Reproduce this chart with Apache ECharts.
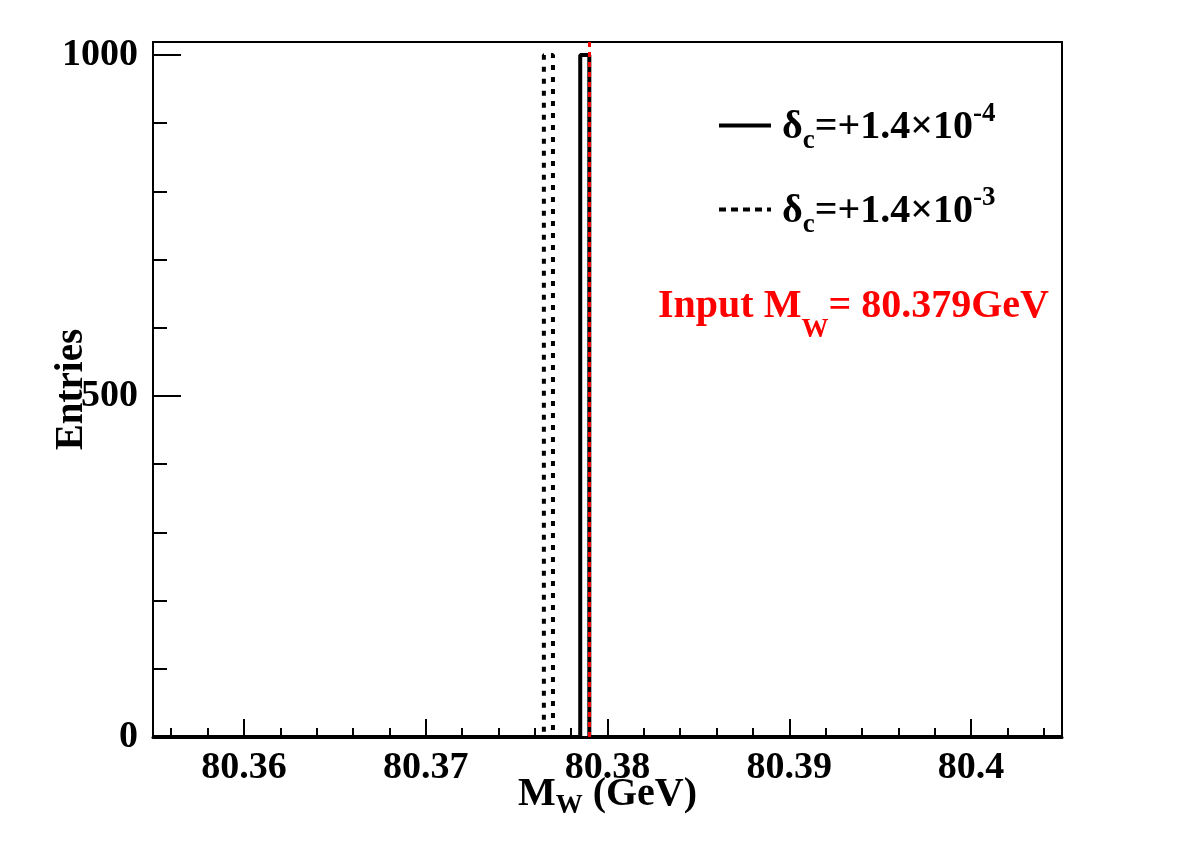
<!DOCTYPE html>
<html>
<head>
<meta charset="utf-8">
<script src="https://cdn.jsdelivr.net/npm/echarts@6/dist/echarts.min.js"></script>
<style>
html,body{margin:0;padding:0;background:#fff;}
#chart{width:1182px;height:848px;}
</style>
</head>
<body>
<div id="chart"></div>
<script>
// ---- data ----
const xMin = 80.355;
const xMax = 80.405;
const yMin = 0;
const yMax = 1019;
const binWidth = 0.0005;
const solidBinLow = [80.3785];
const solidCounts = [1000];
const dottedBinLow = [80.3765];
const dottedCounts = [1000];
const inputMW = 80.379;
const seriesNames = ['solid', 'dotted'];
const legendLabels = ['{m|δ}{sub|c}{m|=+1.4×10}{sup|-4}', '{m|δ}{sub|c}{m|=+1.4×10}{sup|-3}'];
const xTickValues = [80.36, 80.37, 80.38, 80.39, 80.4];
const xTickLabels = ['80.36', '80.37', '80.38', '80.39', '80.4'];
const xMinorStep = 0.002;
const yTickValues = [0, 500, 1000];
const yTickLabels = ['0', '500', '1000'];
const yMinorStep = 100;

// ---- helpers ----
function outline(lows, counts) {
  const pts = [[xMin, 0]];
  lows.forEach((lo, i) => {
    const hi = +(lo + binWidth).toFixed(6);
    pts.push([lo, 0], [lo, counts[i]], [hi, counts[i]], [hi, 0]);
  });
  pts.push([xMax, 0]);
  return pts;
}
function minorTicks(lo, hi, step, majors) {
  const out = [];
  const start = Math.ceil(lo / step - 1e-9);
  for (let k = start; k * step <= hi + 1e-9; k++) {
    const v = +(k * step).toFixed(6);
    if (v < lo || v > hi) continue;
    if (majors.some(m => Math.abs(m - v) < step * 1e-3)) continue;
    out.push(v);
  }
  return out;
}

const FONT = 'Liberation Serif';
const chart = echarts.init(document.getElementById('chart'), null, {renderer: 'canvas'});

const xMinor = minorTicks(xMin, xMax, xMinorStep, xTickValues);
const yMinor = minorTicks(yMin, 1000, yMinorStep, yTickValues);

const solidIcon = 'path://M0,0L52,0L52,4L0,4Z';
const dottedIcon = 'path://M0,0h7v4h-7zM12,0h7v4h-7zM24,0h7v4h-7zM36,0h7v4h-7zM48,0h4v4h-4z';

chart.setOption({
  animation: false,
  backgroundColor: '#fff',
  grid: {
    left: 153, top: 42, right: 120, bottom: 111,
    show: true, borderColor: '#000', borderWidth: 2, backgroundColor: 'transparent'
  },
  xAxis: [{
    type: 'value', min: xMin, max: xMax, position: 'bottom',
    axisLine: {show: true, lineStyle: {color: '#000', width: 3}},
    axisTick: {show: true, inside: true, length: 18, customValues: xTickValues, lineStyle: {color: '#000', width: 2}},
    axisLabel: {
      show: true, customValues: xTickValues, margin: 12,
      formatter: v => { const i = xTickValues.findIndex(t => Math.abs(t - v) < 1e-6); return i >= 0 ? xTickLabels[i] : ''; },
      fontFamily: FONT, fontWeight: 'bold', fontSize: 38, color: '#000'
    },
    splitLine: {show: false},
    name: '{m|M}{sub|W}{m| (GeV)}',
    nameLocation: 'middle', nameGap: 33, nameMoveOverlap: false,
    nameTextStyle: {
      fontFamily: FONT, fontWeight: 'bold', fontSize: 40, color: '#000',
      rich: {
        m: {fontFamily: FONT, fontWeight: 'bold', fontSize: 40, color: '#000', lineHeight: 50, verticalAlign: 'middle'},
        sub: {fontFamily: FONT, fontWeight: 'bold', fontSize: 27, color: '#000', lineHeight: 27, verticalAlign: 'bottom'}
      }
    }
  }, {
    type: 'value', min: xMin, max: xMax, position: 'bottom',
    axisLine: {show: false},
    axisTick: {show: true, inside: true, length: 9, customValues: xMinor, lineStyle: {color: '#000', width: 2}},
    axisLabel: {show: false},
    splitLine: {show: false}
  }],
  yAxis: [{
    type: 'value', min: yMin, max: yMax, position: 'left',
    axisLine: {show: true, lineStyle: {color: '#000', width: 2}},
    axisTick: {show: true, inside: true, length: 28, customValues: yTickValues, lineStyle: {color: '#000', width: 2}},
    axisLabel: {
      show: true, customValues: yTickValues, margin: 15,
      formatter: v => { const i = yTickValues.findIndex(t => Math.abs(t - v) < 1e-6); return i >= 0 ? yTickLabels[i] : ''; },
      fontFamily: FONT, fontWeight: 'bold', fontSize: 38, color: '#000'
    },
    splitLine: {show: false},
    name: 'Entries', nameLocation: 'middle', nameGap: 62, nameRotate: 90, nameMoveOverlap: false,
    nameTextStyle: {fontFamily: FONT, fontWeight: 'bold', fontSize: 39, color: '#000'}
  }, {
    type: 'value', min: yMin, max: yMax, position: 'left',
    axisLine: {show: false},
    axisTick: {show: true, inside: true, length: 14, customValues: yMinor, lineStyle: {color: '#000', width: 2}},
    axisLabel: {show: false},
    splitLine: {show: false}
  }],
  legend: {
    show: true, orient: 'vertical', left: 719, top: 101, padding: 0,
    itemWidth: 52, itemHeight: 4, itemGap: 30, symbolKeepAspect: false,
    data: [{name: seriesNames[0], icon: solidIcon}, {name: seriesNames[1], icon: dottedIcon}],
    formatter: name => legendLabels[seriesNames.indexOf(name)],
    textStyle: {
      fontFamily: FONT, fontWeight: 'bold', fontSize: 40, color: '#000', padding: [5, 0, 0, 6],
      rich: {
        m: {fontFamily: FONT, fontWeight: 'bold', fontSize: 40, color: '#000', lineHeight: 54, verticalAlign: 'middle'},
        sub: {fontFamily: FONT, fontWeight: 'bold', fontSize: 27, color: '#000', lineHeight: 27, verticalAlign: 'bottom'},
        sup: {fontFamily: FONT, fontWeight: 'bold', fontSize: 27, color: '#000', lineHeight: 27, verticalAlign: 'top'}
      }
    }
  },
  graphic: [{
    type: 'text', left: 658, top: 287, z: 10,
    style: {
      text: '{m|Input M}{sub|W}{m|= 80.379GeV}',
      rich: {
        m: {fontFamily: FONT, fontWeight: 'bold', fontSize: 40, fill: '#ff0000', lineHeight: 74, verticalAlign: 'middle'},
        sub: {fontFamily: FONT, fontWeight: 'bold', fontSize: 27, fill: '#ff0000', lineHeight: 27, verticalAlign: 'bottom'}
      }
    }
  }],
  series: [{
    name: seriesNames[1], type: 'line', xAxisIndex: 0, yAxisIndex: 0,
    data: outline(dottedBinLow, dottedCounts),
    symbol: 'none', showSymbol: false, z: 2,
    lineStyle: {color: '#000', width: 4, type: [5, 7]},
    itemStyle: {color: '#000'}
  }, {
    name: seriesNames[0], type: 'line', xAxisIndex: 0, yAxisIndex: 0,
    data: outline(solidBinLow, solidCounts),
    symbol: 'none', showSymbol: false, z: 3,
    lineStyle: {color: '#000', width: 4, type: 'solid'},
    itemStyle: {color: '#000'},
    markLine: {
      silent: true, symbol: ['none', 'none'], label: {show: false}, precision: 6,
      lineStyle: {color: '#ff0000', width: 3, type: [5, 5]},
      data: [{xAxis: inputMW}]
    }
  }]
});
</script>
</body>
</html>
